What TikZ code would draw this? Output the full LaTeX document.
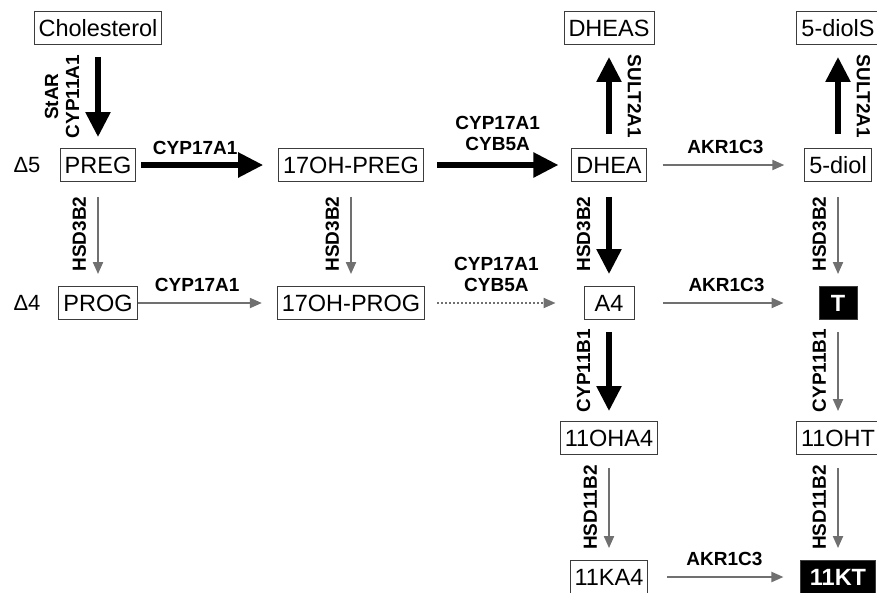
\documentclass[tikz,border=0pt]{standalone}
\usepackage{fontspec}
\setmainfont{Liberation Sans}
\usepackage{tikz}
\usetikzlibrary{arrows.meta}

\definecolor{arrowgray}{RGB}{112,112,112}
\definecolor{boxgray}{RGB}{60,60,60}

\begin{document}
\begin{tikzpicture}[x=1pt, y=-1pt,
    steroid/.style={draw=boxgray, line width=0.9pt, inner xsep=4.5pt, inner ysep=0pt,
                    minimum height=33pt, text height=17pt, text depth=0pt,
                    font=\fontsize{23.5}{28}\selectfont},
    active/.style={steroid, fill=black, text=white, font=\fontsize{23.5}{28}\selectfont\bfseries},
    enzyme/.style={font=\fontsize{19}{21}\selectfont\bfseries, align=center, midway},
    major/.style={-{Triangle[length=25pt,width=24pt]}, line width=5.5pt},
    minor/.style={-{Triangle[length=12pt,width=10pt]}, line width=2pt, draw=arrowgray}]

    \useasboundingbox (0,0) rectangle (877,592);

    % draw steroids
    \node[steroid] (chol)    at (98,28)   {Cholesterol};
    \node[steroid] (dheas)   at (609,28)  {DHEAS};
    \node[steroid] (diols)   at (838,28)  {5-diolS};
    \node[font=\fontsize{22}{26}\selectfont] (dfive) at (27,165) {Δ5};
    \node[steroid] (preg)    at (98,165)  {PREG};
    \node[steroid] (ohpreg)  at (351,165) {17OH-PREG};
    \node[steroid] (dhea)    at (609,165) {DHEA};
    \node[steroid] (diol)    at (838,165) {5-diol};
    \node[font=\fontsize{22}{26}\selectfont] (dfour) at (27,303) {Δ4};
    \node[steroid] (prog)    at (98,303)  {PROG};
    \node[steroid] (ohprog)  at (351,303) {17OH-PROG};
    \node[steroid, minimum width=50pt] (afour) at (609,303) {A4};
    \node[active, minimum width=38pt]  (testo) at (838,303) {T};
    \node[steroid] (ohafour) at (609,438) {11OHA4};
    \node[steroid] (oht)     at (838,438) {11OHT};
    \node[steroid] (kafour)  at (609,577) {11KA4};
    \node[active, inner xsep=9pt] (kt) at (838,577) {11KT};

    % draw major (thick) conversions
    \draw[major, shorten <=12pt, shorten >=11pt] (chol.south) -- (preg.north)
        node[enzyme, rotate=90, anchor=south, inner sep=16pt] {StAR\\CYP11A1};
    \draw[major, shorten <=5pt, shorten >=15pt] (preg.east) -- (ohpreg.west)
        node[enzyme, anchor=south, inner sep=8pt, xshift=-12pt] {CYP17A1};
    \draw[major, shorten <=13pt, shorten >=13pt] (ohpreg.east) -- (dhea.west)
        node[enzyme, anchor=south, inner sep=12pt] {CYP17A1\\CYB5A};
    \draw[major, shorten <=14pt, shorten >=12pt] (dhea.north) -- (dheas.south)
        node[enzyme, rotate=-90, anchor=south, inner sep=16pt] {SULT2A1};
    \draw[major, shorten <=14pt, shorten >=12pt] (diol.north) -- (diols.south)
        node[enzyme, rotate=-90, anchor=south, inner sep=16pt] {SULT2A1};
    \draw[major, shorten <=15pt, shorten >=12pt] (dhea.south) -- (afour.north)
        node[enzyme, rotate=90, anchor=south, inner sep=16pt] {HSD3B2};
    \draw[major, shorten <=12pt, shorten >=10pt] (afour.south) -- (ohafour.north)
        node[enzyme, rotate=90, anchor=south, inner sep=16pt] {CYP11B1};

    % draw minor (thin) conversions
    \draw[minor, shorten <=15pt, shorten >=12pt] (preg.south) -- (prog.north)
        node[enzyme, rotate=90, anchor=south, inner sep=11pt] {HSD3B2};
    \draw[minor, shorten <=15pt, shorten >=12pt] (ohpreg.south) -- (ohprog.north)
        node[enzyme, rotate=90, anchor=south, inner sep=11pt] {HSD3B2};
    \draw[minor, shorten <=15pt, shorten >=12pt] (diol.south) -- (testo.north)
        node[enzyme, rotate=90, anchor=south, inner sep=11pt] {HSD3B2};
    \draw[minor, shorten <=12pt, shorten >=10pt] (testo.south) -- (oht.north)
        node[enzyme, rotate=90, anchor=south, inner sep=11pt] {CYP11B1};
    \draw[minor, shorten <=13pt, shorten >=12pt] (ohafour.south) -- (kafour.north)
        node[enzyme, rotate=90, anchor=south, inner sep=11pt] {HSD11B2};
    \draw[minor, shorten <=13pt, shorten >=12pt] (oht.south) -- (kt.north)
        node[enzyme, rotate=90, anchor=south, inner sep=11pt] {HSD11B2};
    \draw[minor, shorten <=16pt, shorten >=20pt] (dhea.east) -- (diol.west)
        node[enzyme, anchor=south, inner sep=10pt] {AKR1C3};
    \draw[minor, shorten >=15pt] (prog.east) -- (ohprog.west)
        node[enzyme, anchor=south, inner sep=10pt, xshift=-10pt] {CYP17A1};
    \draw[minor, dash pattern=on 2pt off 2pt, shorten <=12pt, shorten >=28pt] (ohprog.east) -- (afour.west)
        node[enzyme, anchor=south, inner sep=10pt, xshift=-8pt] {CYP17A1\\CYB5A};
    \draw[minor, shorten <=29pt, shorten >=35pt] (afour.east) -- (testo.west)
        node[enzyme, anchor=south, inner sep=10pt] {AKR1C3};
    \draw[minor, shorten <=19pt, shorten >=17pt] (kafour.east) -- (kt.west)
        node[enzyme, anchor=south, inner sep=10pt] {AKR1C3};

\end{tikzpicture}
\end{document}
